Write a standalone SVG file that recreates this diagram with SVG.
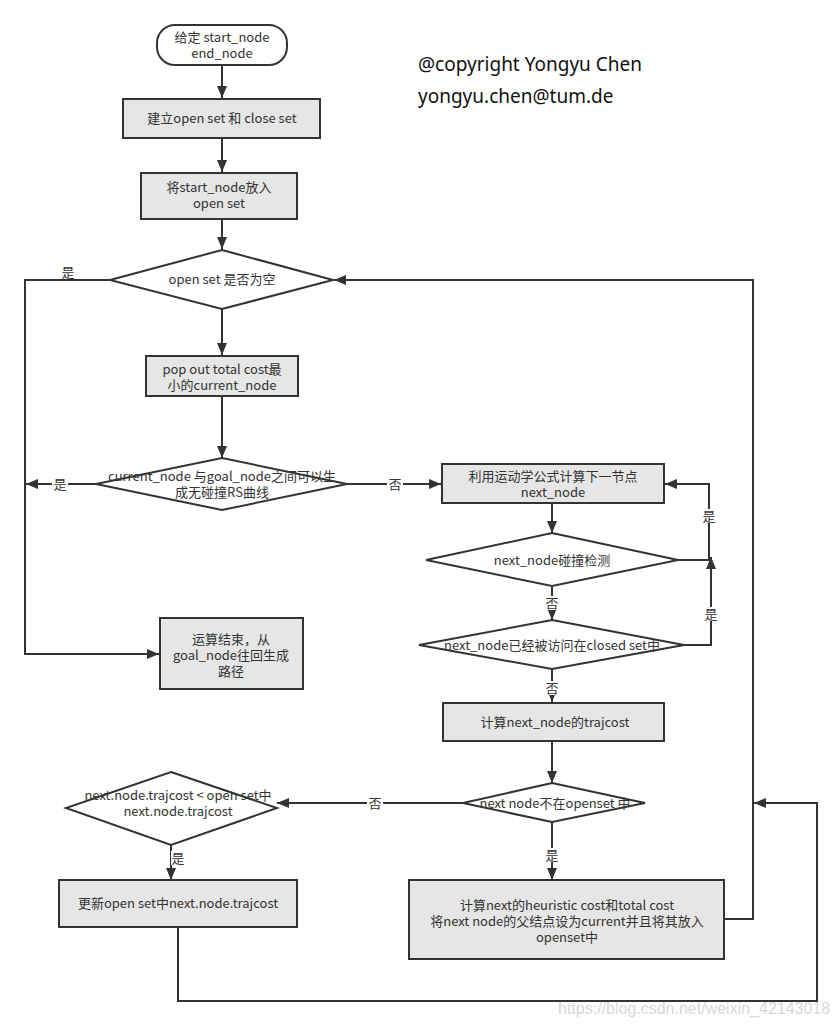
<svg xmlns="http://www.w3.org/2000/svg" width="840" height="1026" viewBox="0 0 840 1026">
<defs>
<style>
.n{fill:#e6e6e6;stroke:#333;stroke-width:2}
.d{fill:#fff;stroke:#333;stroke-width:2}
.t{font-family:"Noto Sans CJK SC","Noto Sans",sans-serif;font-size:13px;fill:#333;text-anchor:middle}
.c{fill:none;stroke:#333;stroke-width:2}
.lb{fill:#fff}
.big{font-family:"Noto Sans","Noto Sans CJK SC",sans-serif;font-size:19px;fill:#111}
.wm{font-family:"Liberation Sans Narrow","Liberation Sans",sans-serif;font-size:16px;fill:#d8d8d8}
</style>
<marker id="a" markerUnits="userSpaceOnUse" markerWidth="12" markerHeight="12" viewBox="0 0 12 12" refX="12" refY="6" orient="auto">
<path d="M0,1 L12,6 L0,11 Z" fill="#333"/>
</marker>
</defs>
<rect width="840" height="1026" fill="#fff"/>
<g id="connectors">
<path class="c" d="M222,65 V98" marker-end="url(#a)"/>
<path class="c" d="M222,138 V172" marker-end="url(#a)"/>
<path class="c" d="M222,219 V249" marker-end="url(#a)"/>
<path class="c" d="M222,309 V355" marker-end="url(#a)"/>
<path class="c" d="M222,396 V458" marker-end="url(#a)"/>
<path class="c" d="M110,280 H25 V654 H159" marker-end="url(#a)"/>
<path class="c" d="M96,484 H26" marker-end="url(#a)"/>
<path class="c" d="M347,484 H441" marker-end="url(#a)"/>
<path class="c" d="M552,503 V533" marker-end="url(#a)"/>
<path class="c" d="M678,560 H709 V484 H665" marker-end="url(#a)"/>
<path class="c" d="M552,586 V620" marker-end="url(#a)"/>
<path class="c" d="M684,645 H711 V557" marker-end="url(#a)"/>
<path class="c" d="M552,669 V702" marker-end="url(#a)"/>
<path class="c" d="M552,741 V783" marker-end="url(#a)"/>
<path class="c" d="M463,803 H277" marker-end="url(#a)"/>
<path class="c" d="M171,845 V880" marker-end="url(#a)"/>
<path class="c" d="M552,822 V880" marker-end="url(#a)"/>
<path class="c" d="M724,919 H753 V280 H334" marker-end="url(#a)"/>
<path class="c" d="M178,927 V1001 H817 V803 H754" marker-end="url(#a)"/>
<g class="labels">
<rect class="lb" x="61" y="264" width="14" height="8"/>
<text class="t" x="68" y="277">是</text>
<rect class="lb" x="52" y="477" width="16" height="14"/>
<text class="t" x="60" y="489">是</text>
<rect class="lb" x="387" y="477" width="16" height="14"/>
<text class="t" x="395" y="489">否</text>
<rect class="lb" x="702" y="509" width="14" height="14"/>
<text class="t" x="709" y="521">是</text>
<rect class="lb" x="545" y="596" width="14" height="14"/>
<text class="t" x="552" y="608">否</text>
<rect class="lb" x="704" y="607" width="14" height="14"/>
<text class="t" x="711" y="619">是</text>
<rect class="lb" x="545" y="681" width="14" height="14"/>
<text class="t" x="552" y="693">否</text>
<rect class="lb" x="367" y="796" width="16" height="14"/>
<text class="t" x="375" y="808">否</text>
<rect class="lb" x="171" y="851" width="14" height="14"/>
<text class="t" x="178" y="863">是</text>
<rect class="lb" x="545" y="848" width="14" height="14"/>
<text class="t" x="552" y="860">是</text>
</g>
</g>
<g id="start">
<rect class="d" x="157" y="25" width="130" height="40" rx="18"/>
<text class="t" x="222" y="42">给定 start_node</text>
<text class="t" x="222" y="58">end_node</text>
</g>
<g id="create_sets">
<rect class="n" x="123" y="99" width="197" height="39"/>
<text class="t" x="222" y="123">建立open set 和 close set</text>
</g>
<g id="push_start">
<rect class="n" x="141" y="173" width="156" height="46"/>
<text class="t" x="219" y="192">将start_node放入</text>
<text class="t" x="219" y="208">open set</text>
</g>
<g id="open_empty">
<polygon class="d" points="222,250 333,280 222,309 110,280"/>
<text class="t" x="222" y="284">open set 是否为空</text>
</g>
<g id="pop">
<rect class="n" x="146" y="356" width="152" height="40"/>
<text class="t" x="222" y="374">pop out total cost最</text>
<text class="t" x="222" y="390">小的current_node</text>
</g>
<g id="rs_check">
<polygon class="d" points="222,458 347,484 222,510 96,484"/>
<text class="t" x="222" y="481">current_node 与goal_node之间可以生</text>
<text class="t" x="222" y="497">成无碰撞RS曲线</text>
</g>
<g id="finish">
<rect class="n" x="160" y="618" width="143" height="71"/>
<text class="t" x="231" y="644">运算结束，从</text>
<text class="t" x="231" y="660">goal_node往回生成</text>
<text class="t" x="231" y="676">路径</text>
</g>
<g id="next_calc">
<rect class="n" x="442" y="464" width="222" height="39"/>
<text class="t" x="553" y="481">利用运动学公式计算下一节点</text>
<text class="t" x="553" y="497">next_node</text>
</g>
<g id="collision">
<polygon class="d" points="552,533 678,560 552,586 426,560"/>
<text class="t" x="552" y="565">next_node碰撞检测</text>
</g>
<g id="closed_check">
<polygon class="d" points="552,620 684,645 552,669 419,645"/>
<text class="t" x="552" y="650">next_node已经被访问在closed set中</text>
</g>
<g id="trajcost">
<rect class="n" x="443" y="703" width="221" height="38"/>
<text class="t" x="555" y="727">计算next_node的trajcost</text>
</g>
<g id="not_in_open">
<polygon class="d" points="552,783 645,803 552,822 463,803"/>
<text class="t" x="555" y="808">next node不在openset 中</text>
</g>
<g id="cost_compare">
<polygon class="d" points="171,772 277,808 171,845 66,808"/>
<text class="t" x="178" y="800">next.node.trajcost &lt; open set中</text>
<text class="t" x="178" y="816">next.node.trajcost</text>
</g>
<g id="update">
<rect class="n" x="59" y="880" width="238" height="47"/>
<text class="t" x="178" y="908">更新open set中next.node.trajcost</text>
</g>
<g id="add_open">
<rect class="n" x="409" y="880" width="315" height="79"/>
<text class="t" x="567" y="910">计算next的heuristic cost和total cost</text>
<text class="t" x="567" y="926">将next node的父结点设为current并且将其放入</text>
<text class="t" x="567" y="942">openset中</text>
</g>
<g id="copyright">
<text class="big" x="418" y="71">@copyright Yongyu Chen</text>
<text class="big" x="418" y="103">yongyu.chen@tum.de</text>
</g>
<text class="wm" x="558" y="1014">https://blog.csdn.net/weixin_42143018</text>
</svg>
